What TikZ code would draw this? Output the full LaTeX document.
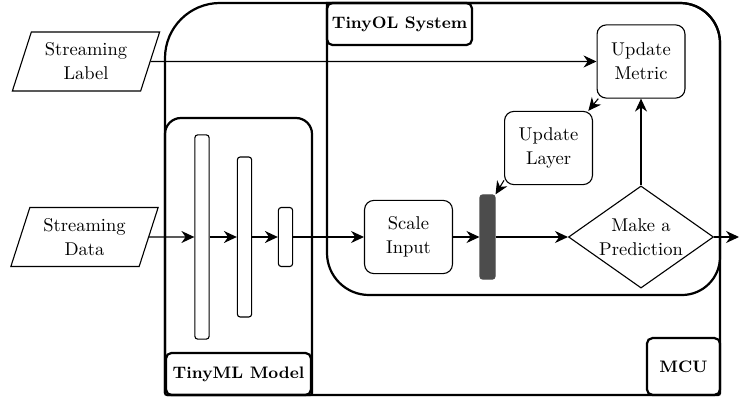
\documentclass[tikz,border=0pt]{standalone}
\usepackage{amsmath}
\usepackage{tikz}
\usetikzlibrary{shapes.geometric,arrows.meta}

\tikzset{
  io/.style={draw, trapezium, trapezium left angle=70, trapezium right angle=110,
    trapezium stretches=true, minimum width=2.81cm, minimum height=1.12cm,
    align=center, inner sep=1pt},
  proc/.style={draw, rounded corners=5pt, minimum width=1.67cm, minimum height=1.39cm, align=center},
  nnlayer/.style={draw, rounded corners=1.5pt, minimum width=0.27cm, inner sep=0pt},
  tag/.style={draw, line width=1.2pt, rounded corners=3pt, font=\small\bfseries, inner sep=0pt},
  frameline/.style={line width=1.2pt},
  flow/.style={-{Stealth[length=7pt,width=6.5pt]}}
}

\begin{document}
\begin{tikzpicture}[x=0.019cm, y=0.019cm, line width=0.6pt, font=\fontsize{10}{13}\selectfont]
  \useasboundingbox (0,0) rectangle (740,398);

  \draw[frameline] (167,3) -- (718,3) arc[start angle=-90, end angle=0, radius=2]
                   -- (720,355) arc[start angle=0, end angle=90, radius=40]
                   -- (220,395) arc[start angle=90, end angle=180, radius=55]
                   -- (165,5) arc[start angle=180, end angle=270, radius=2] -- cycle;
  \draw[frameline] (327,395) -- (680,395) arc[start angle=90, end angle=0, radius=40]
                   -- (720,141) arc[start angle=0, end angle=-90, radius=38]
                   -- (369,103) arc[start angle=270, end angle=180, radius=42] -- cycle;
  \draw[frameline] (165,5) -- (165,264) arc[start angle=180, end angle=90, radius=16]
                   -- (296,280) arc[start angle=90, end angle=0, radius=16]
                   -- (312,5) arc[start angle=0, end angle=-90, radius=2] -- (167,3);

  \node[tag, minimum width=2.755cm, minimum height=0.8cm] (olsys) at (399.5,374) {TinyOL System};
  \node[tag, minimum width=2.755cm, minimum height=0.8cm] (mlmod) at (238.5,24) {TinyML Model};
  \node[tag, minimum width=1.39cm, minimum height=1.08cm] (mcu) at (683.5,31.5) {MCU};

  \node[io] (lbl) at (86,336.5) {Streaming\\Label};
  \node[io] (dat) at (84.5,161) {Streaming\\Data};
  \node[proc] (metric) at (641,336.5) {Update\\Metric};
  \node[proc] (upd) at (548.5,250) {Update\\Layer};
  \node[proc] (scale) at (408.5,161) {Scale\\Input};
  \node[draw, diamond, aspect=1.42, inner sep=0pt, minimum width=2.755cm,
        minimum height=1.94cm, align=center] (pred) at (641,161) {Make a\\Prediction};
  \node[nnlayer, fill=black!70, draw=black!70, minimum width=0.285cm, minimum height=1.6cm] (bar) at (487.5,161) {};
  \node[nnlayer, minimum height=3.88cm] (l1) at (202,161) {};
  \node[nnlayer, minimum height=3.04cm] (l2) at (244.5,161) {};
  \node[nnlayer, minimum height=1.12cm] (l3) at (285.5,161) {};
  \coordinate (out) at (739,161);

  \draw[flow] (lbl) -- (metric);
  \draw[flow] (metric.221) -- (upd.43);
  \draw[flow] (upd.216) -- (bar.north east);
  \draw[flow] (pred) -- (metric);
  \draw[flow] (dat) -- (l1);
  \draw[flow] (l1) -- (l2);
  \draw[flow] (l2) -- (l3);
  \draw[flow] (l3) -- (scale);
  \draw[flow] (scale) -- (bar);
  \draw[flow] (bar) -- (pred);
  \draw[flow] (pred) -- (out);
\end{tikzpicture}
\end{document}
